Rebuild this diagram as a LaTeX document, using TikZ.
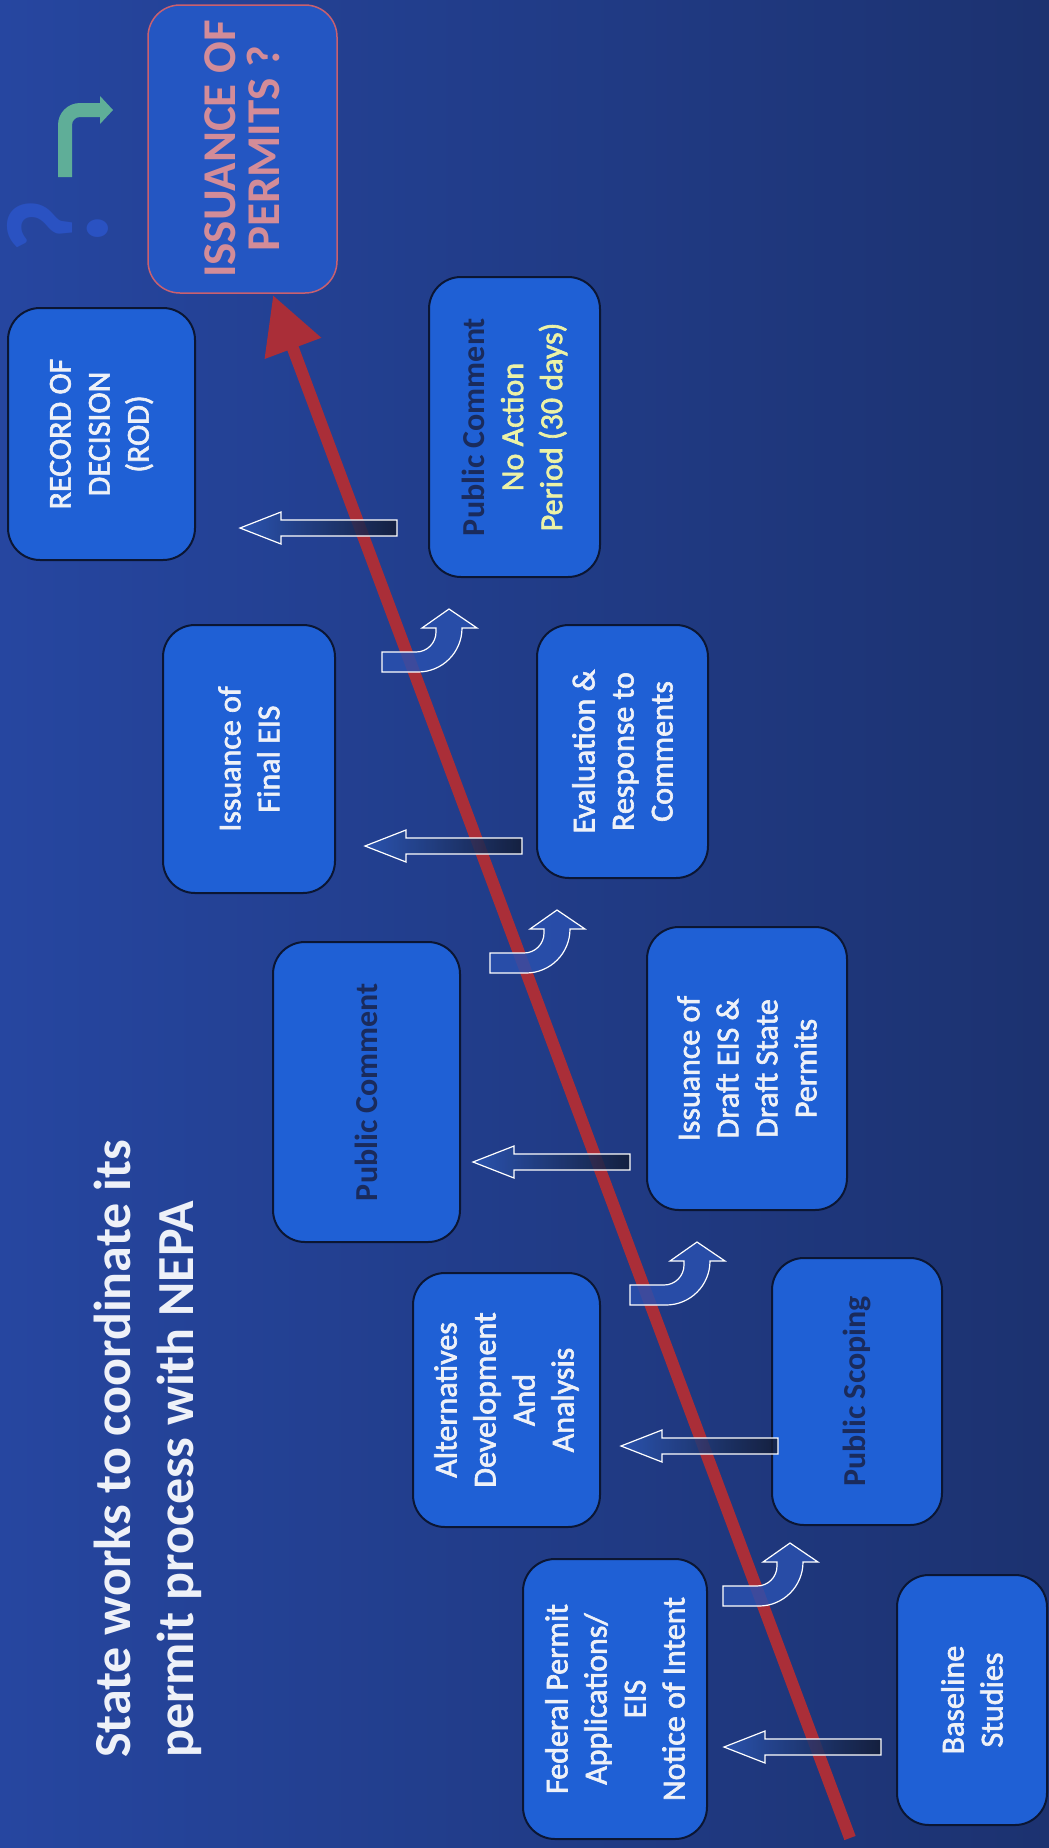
\documentclass[tikz,border=0pt]{standalone}
\usepackage{fontspec}
\usepackage{graphicx}
\setmainfont{Carlito}
\newfontfamily\boxfont{Carlito}[FakeBold=2]
\usetikzlibrary{arrows.meta}
\definecolor{bgA}{HTML}{2646A0}
\definecolor{bgB}{HTML}{1C3270}
\definecolor{boxfill}{HTML}{1F60D5}
\definecolor{boxline}{HTML}{0B1633}
\definecolor{darktext}{HTML}{1A2B5C}
\definecolor{paleyellow}{HTML}{ECF2A6}
\definecolor{pinktext}{HTML}{D38C98}
\definecolor{pinkline}{HTML}{C9606F}
\definecolor{issuefill}{HTML}{2456C2}
\definecolor{redline}{HTML}{AA2E38}
\definecolor{arrowblue}{HTML}{2C56B4}
\definecolor{arrowdark}{HTML}{131C34}
\definecolor{ufill}{HTML}{2A50AE}
\definecolor{tealarrow}{HTML}{5FAE98}
\definecolor{qblue}{HTML}{2A52C2}
\definecolor{titlewhite}{HTML}{EEF1F8}
\begin{document}
\begin{tikzpicture}[x=1pt,y=-1pt,
  stepbox/.style={rotate=90, draw=boxline, line width=2pt, fill=boxfill, rounded corners=32pt,
    align=center, text=titlewhite, font=\boxfont\fontsize{32}{39}\selectfont, inner sep=0pt},
  boldbox/.style={stepbox, text=darktext, font=\rmfamily\bfseries\fontsize{32}{39}\selectfont},
  blockarrow/.style={draw=white, line width=1.2pt, left color=arrowblue, right color=arrowdark, fill opacity=0.85},
  uarrow/.style={draw=white, line width=1.2pt, fill=ufill, fill opacity=0.85},
  pics/backarrow/.style={code={\path[blockarrow] (0,0) -- (41,-16) -- (41,-8) -- (157,-8) -- (157,8) -- (41,8) -- (41,16) -- cycle;}},
  pics/uturn/.style={code={\path[uarrow] (0,-20) -- (34,-20) .. controls (45.04,-20) and (54,-28.96) .. (54,-40) -- (54,-44) -- (40,-44) -- (67,-63) -- (95,-44) -- (80,-44) .. controls (80,-19.71) and (60.29,0) .. (36,0) -- (0,0) -- cycle;}},
]
\path[use as bounding box] (0,0) rectangle (1049,1848);
\shade[left color=bgA, right color=bgB] (0,0) rectangle (1049,1848);

% title
\node[rotate=90, anchor=west, align=left, inner sep=0pt, text=titlewhite,
  font=\bfseries\fontsize{52}{63}\selectfont] (title) at (148,1758)
  {State works to coordinate its\\permit process with NEPA};

% question mark and turn arrow
\node[rotate=90, text=qblue, font=\bfseries\fontsize{145}{145}\selectfont, inner sep=0pt] (qmark) at (58,226) {\scalebox{0.82}[1]{?}};
\fill[tealarrow] (58,177) -- (58,125) .. controls (58,112.8) and (67.8,103) .. (80,103) -- (100,103) -- (100,96) -- (113,110) -- (100,124) -- (100,117) -- (80,117) .. controls (75.6,117) and (72,120.6) .. (72,125) -- (72,177) -- cycle;

% red timeline
\coordinate (redstart) at (850,1838);
\coordinate (redtip) at (273,295);
\draw[redline, line width=12pt, -{Triangle[length=57pt,width=57pt]}] (redstart) -- (redtip);

% boxes
\node[stepbox, minimum width=280pt, minimum height=184pt] (federal) at (615,1699)
  {Federal Permit\\Applications/\\EIS\\Notice of Intent};
\node[stepbox, minimum width=250pt, minimum height=150pt] (baseline) at (972,1700)
  {Baseline\\Studies};
\node[boldbox, minimum width=267pt, minimum height=170pt] (scoping) at (857,1391.5)
  {Public Scoping};
\node[stepbox, minimum width=254pt, minimum height=187pt] (alt) at (506.5,1400)
  {Alternatives\\Development\\And\\Analysis};
\node[stepbox, minimum width=283pt, minimum height=200pt] (draft) at (747,1068.5)
  {Issuance of\\Draft EIS \&\\Draft State\\Permits};
\node[boldbox, minimum width=300pt, minimum height=187pt] (pubcom) at (366.5,1092)
  {Public Comment};
\node[stepbox, minimum width=253pt, minimum height=171pt] (eval) at (622.5,751.5)
  {Evaluation \&\\Response to\\Comments};
\node[stepbox, minimum width=268pt, minimum height=172pt] (final) at (249,759)
  {Issuance of\\Final EIS};
\node[stepbox, text=paleyellow, minimum width=300pt, minimum height=171pt] (noaction) at (514.5,427)
  {{\rmfamily\bfseries\color{darktext}Public Comment}\\No Action\\Period (30 days)};
\node[stepbox, minimum width=252pt, minimum height=187pt] (rod) at (101.5,434)
  {RECORD OF\\DECISION\\(ROD)};
\node[stepbox, fill=issuefill, draw=pinkline, line width=1.5pt, text=pinktext,
  font=\rmfamily\bfseries\fontsize{47}{44}\selectfont, minimum width=288pt, minimum height=189pt] (issue) at (242.5,149)
  {ISSUANCE OF\\PERMITS ?};

% back arrows (pointing to the upper row)
\pic at (724,1747) {backarrow};
\pic at (621,1446) {backarrow};
\pic at (473,1162) {backarrow};
\pic at (365,846) {backarrow};
\pic at (240,528) {backarrow};

% turn arrows (to the lower row)
\pic at (723,1606) {uturn};
\pic at (630,1305) {uturn};
\pic at (490,973) {uturn};
\pic at (382,672) {uturn};
\end{tikzpicture}
\end{document}
